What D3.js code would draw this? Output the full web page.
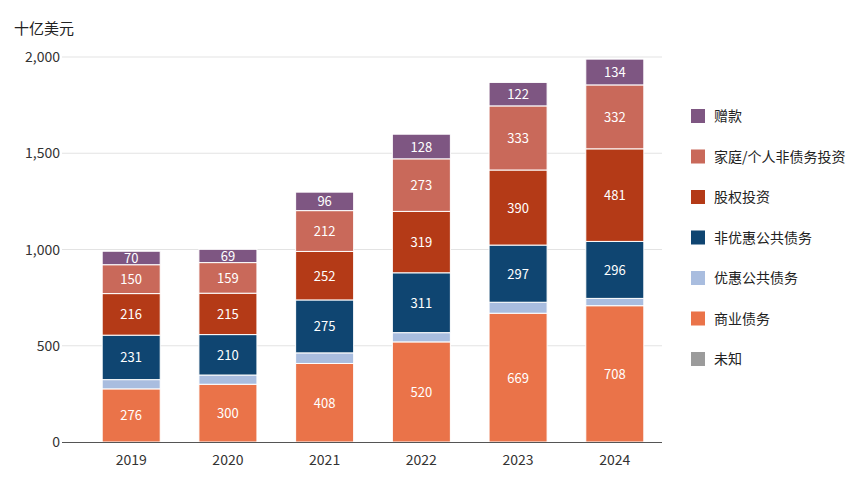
<!DOCTYPE html>
<html><head><meta charset="utf-8">
<script src="https://cdn.jsdelivr.net/npm/d3@7"></script>
<style>body{margin:0;background:#fff;font-family:"Noto Sans CJK SC","Noto Sans",sans-serif;}</style>
</head><body>
<script>
var years = ["2019","2020","2021","2022","2023","2024"];
var unknown = [0,0,0,0,0,0];
var commercial = [276,300,408,520,669,708];
var concessional = [48,48,55,48,57,38];
var nonConcessional = [231,210,275,311,297,296];
var equity = [216,215,252,319,390,481];
var household = [150,159,212,273,333,332];
var grants = [70,69,96,128,122,134];
var yTicks = [0,500,1000,1500,2000];

var series = [
  {name:"未知", values:unknown, color:"#9b9b9b", label:false},
  {name:"商业债务", values:commercial, color:"#ea7349", label:true},
  {name:"优惠公共债务", values:concessional, color:"#a9bddf", label:false},
  {name:"非优惠公共债务", values:nonConcessional, color:"#0f4571", label:true},
  {name:"股权投资", values:equity, color:"#b43a17", label:true},
  {name:"家庭/个人非债务投资", values:household, color:"#c9695a", label:true},
  {name:"赠款", values:grants, color:"#7e5682", label:true}
];

var width = 865, height = 487;
var svg = d3.select("body").append("svg").attr("width", width).attr("height", height);

var x = d3.scaleBand().domain(years).range([78, 668]).paddingInner(0.4).paddingOuter(0.25);
var y = d3.scaleLinear().domain([0, 2000]).range([442, 57]);

// gridlines
svg.selectAll("line.grid").data(yTicks.slice(1)).enter().append("line")
  .attr("x1", 62).attr("x2", 662).attr("y1", d => y(d)).attr("y2", d => y(d))
  .attr("stroke", "#e3e3e3");

// y labels
svg.selectAll("text.yt").data(yTicks).enter().append("text")
  .attr("x", 60).attr("y", d => y(d) + 5).attr("text-anchor", "end")
  .attr("font-size", 14).attr("fill", "#333")
  .text(d => d3.format(",")(d));

svg.append("text").attr("x", 14).attr("y", 34).attr("font-size", 15).attr("fill", "#222").text("十亿美元");

// stacked bars
years.forEach(function(yr, i) {
  var base = 0;
  series.forEach(function(s) {
    var v = s.values[i];
    if (v > 0) {
      svg.append("rect")
        .attr("x", x(yr)).attr("width", x.bandwidth())
        .attr("y", y(base + v)).attr("height", y(base) - y(base + v))
        .attr("fill", s.color).attr("stroke", "#fff").attr("stroke-width", 1);
      if (s.label) {
        svg.append("text")
          .attr("x", x(yr) + x.bandwidth() / 2).attr("y", y(base + v / 2) + 5)
          .attr("text-anchor", "middle").attr("font-size", 13).attr("fill", "#fff")
          .text(v);
      }
    }
    base += v;
  });
});

// x axis
svg.append("line").attr("x1", 62).attr("x2", 662).attr("y1", 442.5).attr("y2", 442.5).attr("stroke", "#555");
svg.selectAll("text.xt").data(years).enter().append("text")
  .attr("x", d => x(d) + x.bandwidth() / 2).attr("y", 465)
  .attr("text-anchor", "middle").attr("font-size", 14).attr("fill", "#333").text(d => d);

// legend
var legend = series.slice().reverse();
legend.forEach(function(s, i) {
  var ly = 116 + i * 40.5;
  svg.append("rect").attr("x", 691).attr("y", ly - 7).attr("width", 14).attr("height", 14).attr("fill", s.color);
  svg.append("text").attr("x", 714).attr("y", ly + 5).attr("font-size", 14).attr("fill", "#222").text(s.name);
});
</script>
</body></html>
